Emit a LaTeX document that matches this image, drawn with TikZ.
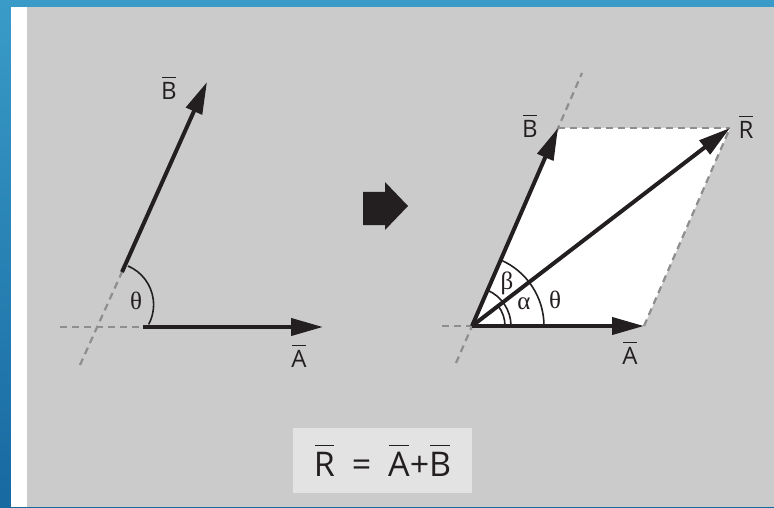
\documentclass[tikz,border=0pt]{standalone}
\usepackage{fontspec}
\setmainfont{Open Sans}
\newfontfamily\greekfont{Liberation Serif}
\usetikzlibrary{arrows.meta,calc}
\definecolor{frameblue}{HTML}{3A9BC8}
\definecolor{frameblue2}{HTML}{1769A1}
\definecolor{panelgray}{HTML}{CBCBCB}
\definecolor{boxgray}{HTML}{E3E3E3}
\definecolor{ink}{HTML}{231F20}
\definecolor{guidegray}{HTML}{8E8E8E}
% letter with a bar over it
\newcommand{\barvec}[1]{\setbox0\hbox{#1}\vbox{\offinterlineskip
  \hbox to\wd0{\hss\vrule width 0.9\wd0 height 1.6pt\hss}\kern 0.16em\box0}}

\begin{document}
\begin{tikzpicture}[
  x=1pt, y=1pt,
  vec/.style={draw=ink, line width=4pt, -{Triangle[length=32pt,width=17pt]}},
  guide/.style={draw=guidegray, line width=2.2pt, dash pattern=on 7pt off 5pt},
  angarc/.style={draw=ink, line width=1.6pt},
  lbl/.style={text=ink, inner sep=0pt, font=\fontsize{24}{28}\selectfont},
  greek/.style={text=ink, inner sep=0pt, font=\greekfont\fontsize{25}{29}\selectfont}
]
\useasboundingbox (0,0) rectangle (774,507);
% frame and panel
\shade[top color=frameblue, bottom color=frameblue2] (0,0) rectangle (774,507);
\fill[white] (11,0) rectangle (774,500);
\fill[panelgray] (27,0) rectangle (774,500);

% left: the two vectors apart
\coordinate (a0) at (143,180);
\coordinate (a1) at (323,180);
\coordinate (b0) at (122,235);
\coordinate (b1) at (207,425);
\coordinate (hl) at (60,180);
\coordinate (dl) at (80,142);
\draw[guide] (hl) -- (a0);
\draw[guide] (dl) -- (b0);
\draw[angarc] (b0) ++(6,6) arc[start angle=67, end angle=-28, radius=42];
\draw[vec] (a0) -- (a1);
\draw[vec] (b0) -- (b1);
\node[lbl] (labA) at (299,151) {\barvec{A}};
\node[lbl] (labB) at (169,419) {\barvec{B}};
\node[greek] (thL) at (136,206) {θ};

% block arrow
\fill[ink] (363,315) -- (385,315) -- (385,325) -- (408,301) -- (385,277)
  -- (385,282) -- (363,282) -- cycle;

% right: parallelogram
\coordinate (O) at (472,181);
\coordinate (At) at (644,181);
\coordinate (Bt) at (558,379);
\coordinate (Rt) at (730,379);
\coordinate (hr) at (442,181);
\coordinate (dr0) at (456,144);
\coordinate (dr1) at (582,434);
\fill[white] (O) -- (At) -- (Rt) -- (Bt) -- cycle;
\draw[guide] (hr) -- (O);
\draw[guide] (dr0) -- (dr1);
\draw[guide] (Bt) -- (Rt);
\draw[guide] (At) -- (Rt);
\draw[angarc] (O) ++(33,0) arc[start angle=0, end angle=37.5, radius=33];
\draw[angarc] (O) ++(39,0) arc[start angle=0, end angle=66.5, radius=39];
\draw[angarc] (O) ++(72,0) arc[start angle=0, end angle=66.5, radius=72];
\draw[vec] (O) -- (At);
\draw[vec] (O) -- (Bt);
\draw[vec] (O) -- (Rt);
\node[lbl] (labA2) at (630,154) {\barvec{A}};
\node[lbl] (labB2) at (530,381) {\barvec{B}};
\node[lbl] (labR) at (746,380) {\barvec{R}};
\node[greek] (be) at (507,224) {β};
\node[greek] (al) at (524,203) {α};
\node[greek] (thR) at (555,207) {θ};

% sum
\node[fill=boxgray, minimum width=179pt, minimum height=65pt, inner sep=0pt,
  text=ink, font=\fontsize{34}{40}\selectfont] (eq) at (382.5,46.5)
  {\barvec{R}\hspace{0.5em}=\hspace{0.5em}\barvec{A}+\barvec{B}};
\end{tikzpicture}
\end{document}
